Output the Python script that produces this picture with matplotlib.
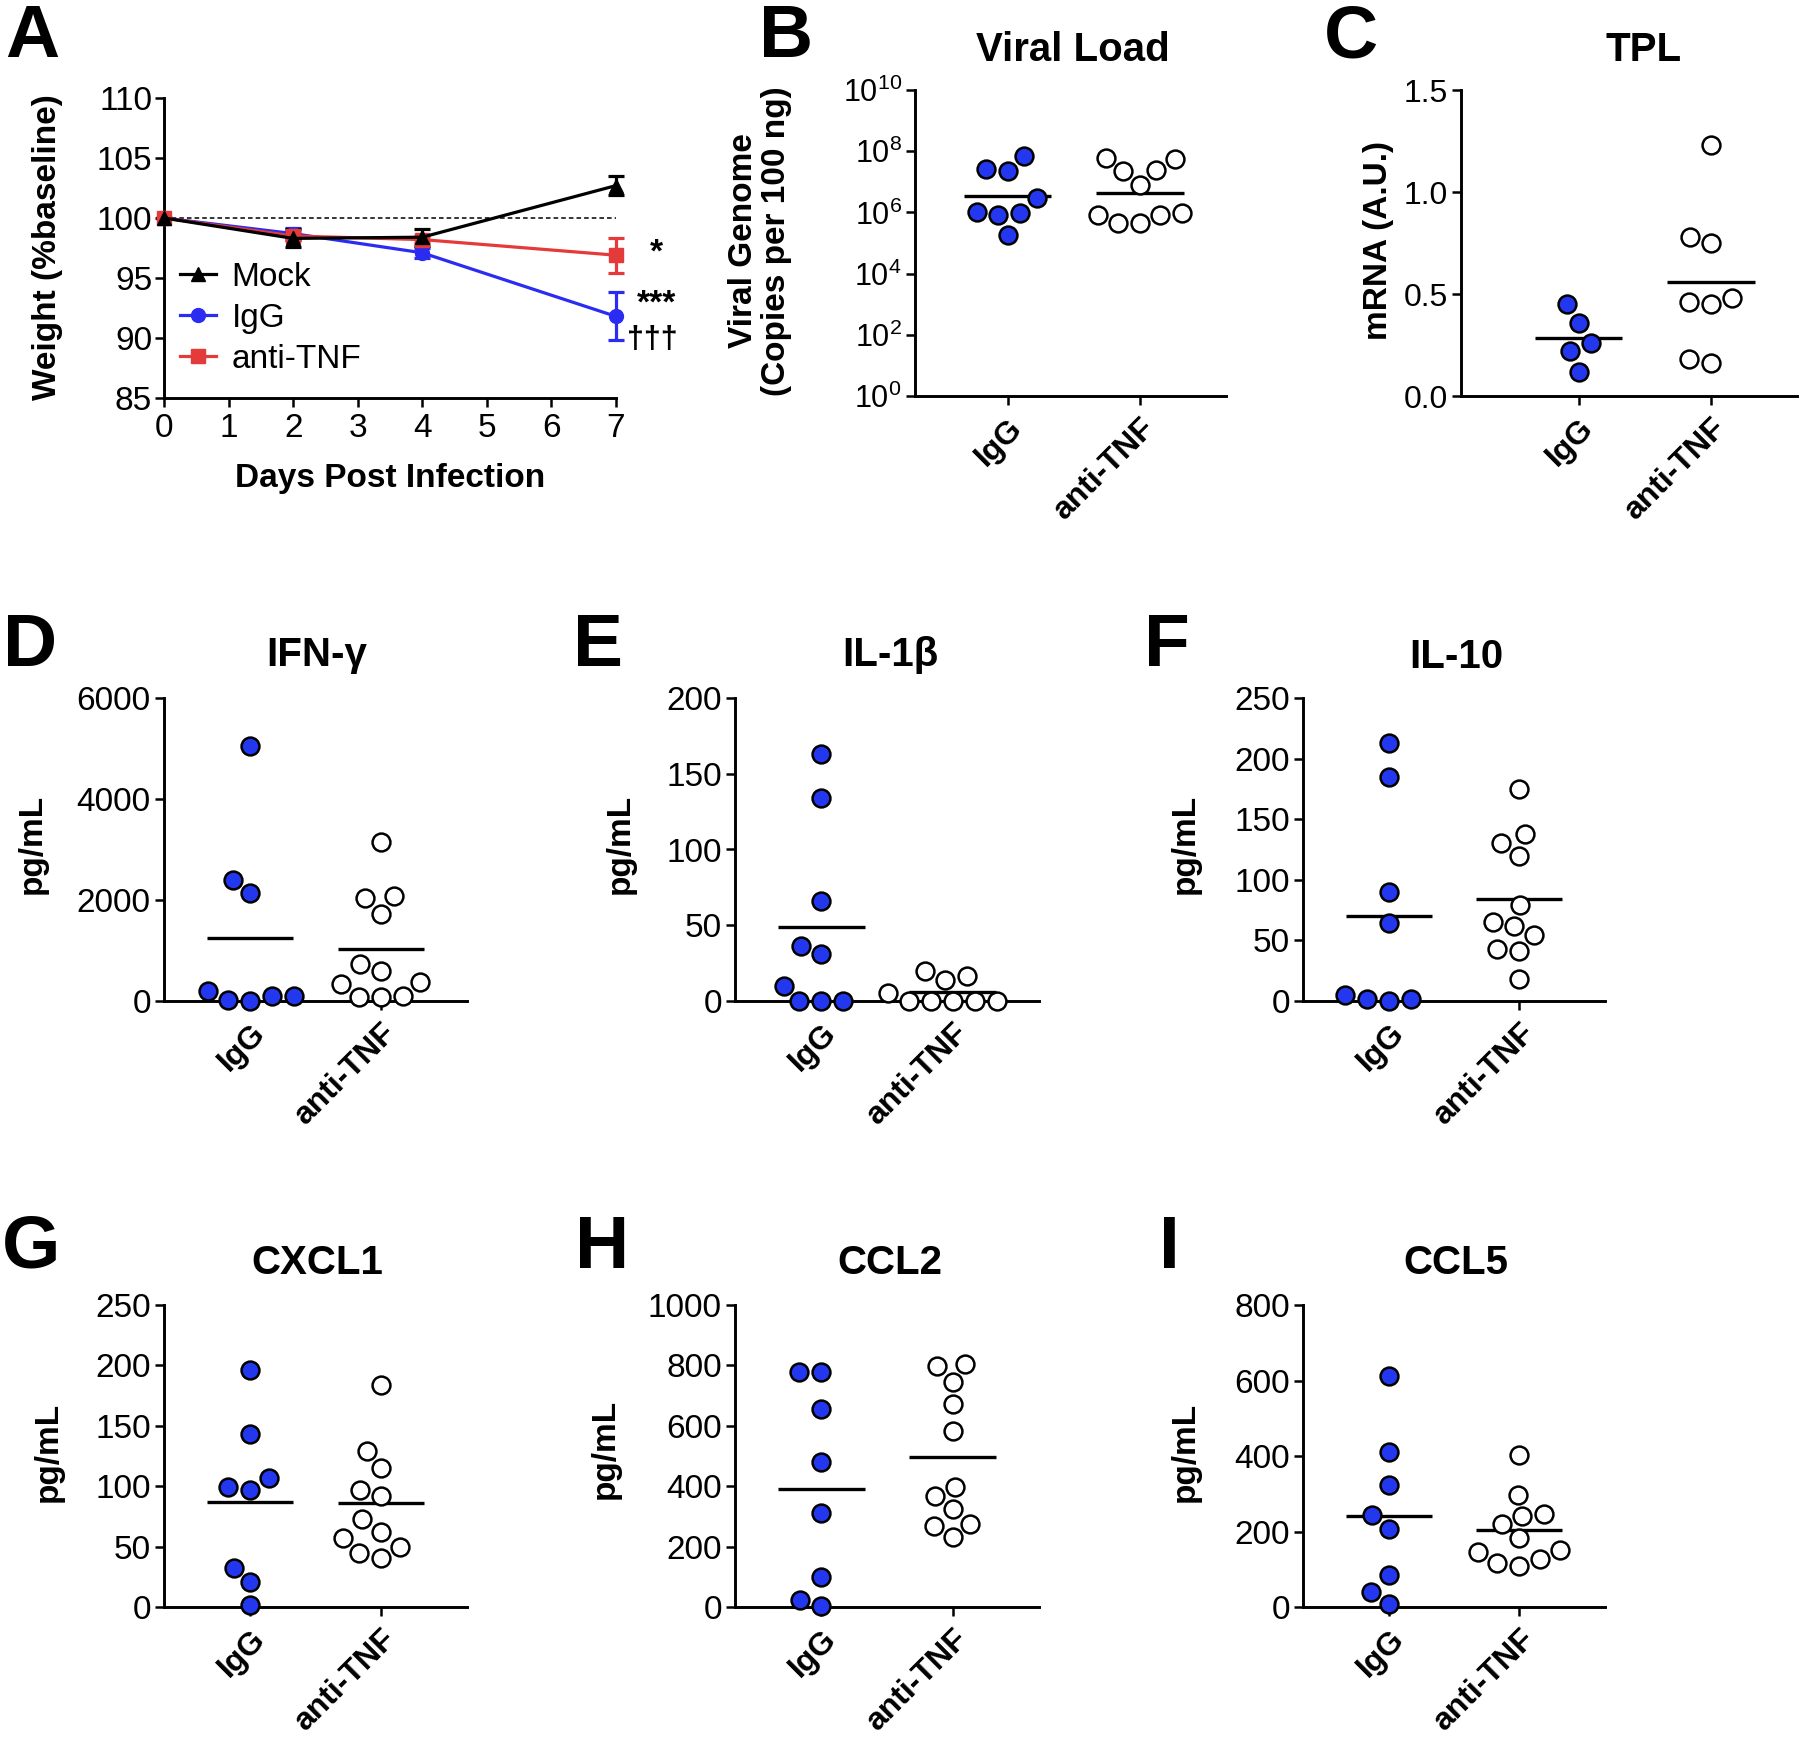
import numpy as np
import matplotlib
matplotlib.use("Agg")
import matplotlib.pyplot as plt
from matplotlib.lines import Line2D

# ============================================================
# DATA
# ============================================================

# --- A: weight curve ---
days = [0, 2, 4, 7]
mock_mean = [100, 98.3, 98.4, 102.7]
mock_sem = [0, 0.75, 0.7, 0.8]
igg_mean = [100, 98.7, 97.1, 91.8]
igg_sem = [0, 0.5, 0.4, 2.0]
tnf_mean = [100, 98.5, 98.2, 96.9]
tnf_sem = [0, 0.3, 0.3, 1.45]

groups = ["IgG", "anti-TNF"]

# --- B: viral load (copies per 100 ng) ---
viral_igg = [7.1e7, 2.3e7, 2.6e7, 3.0e6, 9.8e5, 8.1e5, 1.0e6, 1.8e5]
viral_tnf = [5.5e7, 6.2e7, 2.2e7, 2.5e7, 7.8e6, 8.5e5, 8.5e5, 9.3e5, 4.5e5, 4.5e5]

# --- C: TPL mRNA ---
tpl_igg = [0.45, 0.36, 0.26, 0.22, 0.12]
tpl_tnf = [1.23, 0.75, 0.78, 0.46, 0.45, 0.48, 0.16, 0.18]

# --- D-I: cytokines (pg/mL) ---
ifng_igg = [5045, 2390, 2130, 205, 90, 0, 20, 100]
ifng_tnf = [3140, 2070, 2030, 1725, 735, 600, 375, 330, 100, 70, 70]
il1b_igg = [163, 134, 66, 36, 31, 10, 0, 0, 0]
il1b_tnf = [20, 16.6, 13.7, 5, 0, 0, 0, 0, 0]
il10_igg = [213, 185, 90, 64, 2, 0, 1.5, 5]
il10_tnf = [175, 137.5, 130.5, 120, 79, 61.5, 65, 54.5, 42.5, 41.5, 18]
cxcl1_igg = [196, 143.5, 106.5, 97, 99, 32.5, 20.5, 1.5]
cxcl1_tnf = [184, 129, 115, 97, 91.5, 72.5, 62.5, 57.5, 49.5, 45, 40.5]
ccl2_igg = [778, 778, 655, 480, 311, 100, 3, 23]
ccl2_tnf = [798, 806, 746, 672, 584, 399, 368, 325, 274, 268, 231]
ccl5_igg = [613, 410, 323, 243, 207, 85, 39, 7]
ccl5_tnf = [403, 298, 246, 241, 219, 182, 150, 146, 128, 116, 109]

# ============================================================
# STYLE
# ============================================================

SANS = "Liberation Sans"
plt.rcParams["font.family"] = SANS
plt.rcParams["mathtext.fontset"] = "custom"
plt.rcParams["mathtext.rm"] = SANS
plt.rcParams["mathtext.default"] = "regular"

BLUE = "#2337ef"
LINE_BLUE = "#2b2bf2"
RED = "#e53a3a"
SPINE_LW = 2.1
TICK_FS = 24
LAB_FS = 24

W, H = 1800, 1742
fig = plt.figure(figsize=(W / 100, H / 100), dpi=100)


def box(x0, y0, x1, y1):
    # axes from pixel box (top-left origin)
    return fig.add_axes([x0 / W, 1 - y1 / H, (x1 - x0) / W, (y1 - y0) / H])


def style_axes(ax, fs=TICK_FS, pad=3):
    for s in ["top", "right"]:
        ax.spines[s].set_visible(False)
    for s in ["left", "bottom"]:
        ax.spines[s].set_linewidth(SPINE_LW)
    ax.tick_params(direction="out", length=6.5, width=1.8, labelsize=fs, pad=pad)
    ax.minorticks_off()


def swarm_x(ax, center, vals, diam):
    # simple beeswarm in pixel space
    pts = ax.transData.transform(np.column_stack([np.full(len(vals), center), vals]))
    xc = pts[0, 0]
    ypix = pts[:, 1]
    placed = []
    offs = np.zeros(len(vals))
    for i in np.argsort(ypix):
        y = ypix[i]
        cands = [0.0]
        for px_, py_ in placed:
            dy = y - py_
            if abs(dy) < diam:
                dx = np.sqrt(diam ** 2 - dy ** 2)
                cands += [px_ - dx, px_ + dx]
        cands = sorted(set(cands), key=lambda c: (abs(c), c))
        for c in cands:
            if all((c - px_) ** 2 + (y - py_) ** 2 >= diam ** 2 - 1e-6 for px_, py_ in placed):
                break
        placed.append((c, y))
        offs[i] = c
    back = ax.transData.inverted().transform(np.column_stack([xc + offs, ypix]))
    return back[:, 0]


def dot_panel(pix, igg, tnf, title, title_xy, ylim, yticks, log=False,
              xlim=(-0.66, 1.66), fs=TICK_FS):
    ax = box(*pix)
    if log:
        ax.set_yscale("log")
    ax.set_xlim(*xlim)
    ax.set_ylim(*ylim)
    ax.set_yticks(yticks)
    style_axes(ax, fs=fs)
    ax.minorticks_off()
    ax.set_xticks([0, 1])
    ax.set_xticklabels(groups, rotation=45, ha="right", va="top",
                       rotation_mode="anchor", fontweight="bold", fontsize=23)
    ax.tick_params(axis="x", pad=6)
    for i, (vals, fc) in enumerate([(igg, BLUE), (tnf, "white")]):
        vals = np.asarray(vals, dtype=float)
        xs = swarm_x(ax, i, vals, 22)
        ax.scatter(xs, vals, s=165, facecolor=fc, edgecolor="black",
                   linewidth=1.8, zorder=4, clip_on=False)
        m = 10 ** np.mean(np.log10(vals)) if log else np.mean(vals)
        ax.hlines(m, i - 0.33, i + 0.33, color="black", lw=2.4, zorder=3)
    fig.text(title_xy[0] / W, 1 - title_xy[1] / H, title, ha="center",
             va="baseline", fontsize=29, fontweight="bold")
    return ax


def ylabel(text, x, y, **kw):
    fig.text(x / W, 1 - y / H, text, rotation=90, ha="center", va="center",
             fontsize=LAB_FS, fontweight="bold", **kw)


def letter(text, x, y):
    fig.text(x / W, 1 - y / H, text, ha="center", va="baseline",
             fontsize=54, fontweight="bold")


# ============================================================
# A: WEIGHT
# ============================================================

axA = box(164, 98, 616, 398)
axA.set_xlim(0, 7)
axA.set_ylim(85, 110)
style_axes(axA, fs=24, pad=2)
axA.set_xticks(range(0, 8))
axA.set_yticks(range(85, 111, 5))
axA.tick_params(axis="x", pad=4)

axA.plot([0, 7], [100, 100], color="black", lw=1.1, dashes=(3, 2), zorder=1)

series = [
    ("IgG", igg_mean, igg_sem, LINE_BLUE, "o"),
    ("anti-TNF", tnf_mean, tnf_sem, RED, "s"),
    ("Mock", mock_mean, mock_sem, "black", "^"),
]
handles = {}
for label, mean, sem, color, mk in series:
    axA.errorbar(days, mean, yerr=sem, color=color, marker=mk, ms=10, lw=2.3,
                 capsize=6, capthick=2.3, elinewidth=2.3, zorder=3)
    handles[label] = Line2D([], [], color=color, marker=mk, ms=10, lw=2.3)
for art in axA.get_children():
    art.set_clip_on(False)

axA.legend([handles[k] for k in ["Mock", "IgG", "anti-TNF"]],
           ["Mock", "IgG", "anti-TNF"],
           prop={"size": 24}, frameon=False,
           loc="upper left", bbox_to_anchor=(0.035, 0.455),
           handlelength=1.1, handletextpad=0.45, labelspacing=0.3,
           borderpad=0, borderaxespad=0)

axA.text(7.63, 97.1, "*", ha="center", va="center", fontsize=24, fontweight="bold")
axA.text(7.63, 92.8, "***", ha="center", va="center", fontsize=24, fontweight="bold")
axA.text(7.57, 89.8, "\u2020\u2020\u2020", ha="center", va="center", fontsize=22,
         fontweight="bold")

fig.text(390 / W, 1 - 487 / H, "Days Post Infection", ha="center", va="baseline",
         fontsize=24, fontweight="bold")
ylabel("Weight (%baseline)", 48, 247)
letter("A", 32, 57)

# ============================================================
# B, C
# ============================================================

dot_panel((915, 90, 1226, 396), viral_igg, viral_tnf, "Viral Load", (1073, 61),
          (1, 1e10), [1e0, 1e2, 1e4, 1e6, 1e8, 1e10], log=True,
          xlim=(-0.7, 1.65), fs=22)
ylabel("Viral Genome\n(Copies per 100 ng)", 760, 241, linespacing=1.05)
letter("B", 786, 57)

dot_panel((1461, 90, 1797, 396), tpl_igg, tpl_tnf, "TPL", (1644, 61),
          (0, 1.5), [0.0, 0.5, 1.0, 1.5], xlim=(-0.89, 1.65), fs=23)
ylabel("mRNA (A.U.)", 1378, 241)
letter("C", 1351, 57)

# ============================================================
# D-F
# ============================================================

dot_panel((164, 698, 467, 1001), ifng_igg, ifng_tnf, "IFN-\u03b3", (317, 666),
          (0, 6000), [0, 2000, 4000, 6000])
ylabel("pg/mL", 32, 844)
letter("D", 30, 666)

dot_panel((735, 698, 1039, 1001), il1b_igg, il1b_tnf, "IL-1\u03b2", (890, 666),
          (0, 200), [0, 50, 100, 150, 200])
ylabel("pg/mL", 620, 844)
letter("E", 598, 666)

dot_panel((1303, 698, 1605, 1001), il10_igg, il10_tnf, "IL-10", (1456, 668),
          (0, 250), [0, 50, 100, 150, 200, 250])
ylabel("pg/mL", 1185, 844)
letter("F", 1167, 666)

# ============================================================
# G-I
# ============================================================

dot_panel((164, 1305, 467, 1607), cxcl1_igg, cxcl1_tnf, "CXCL1", (317, 1274),
          (0, 250), [0, 50, 100, 150, 200, 250])
ylabel("pg/mL", 48, 1452)
letter("G", 31, 1268)

dot_panel((735, 1305, 1039, 1607), ccl2_igg, ccl2_tnf, "CCL2", (890, 1274),
          (0, 1000), [0, 200, 400, 600, 800, 1000])
ylabel("pg/mL", 605, 1449)
letter("H", 602, 1268)

dot_panel((1303, 1305, 1605, 1607), ccl5_igg, ccl5_tnf, "CCL5", (1456, 1274),
          (0, 800), [0, 200, 400, 600, 800])
ylabel("pg/mL", 1185, 1452)
letter("I", 1169, 1268)

fig.savefig("out.png", dpi=100, facecolor="white")
